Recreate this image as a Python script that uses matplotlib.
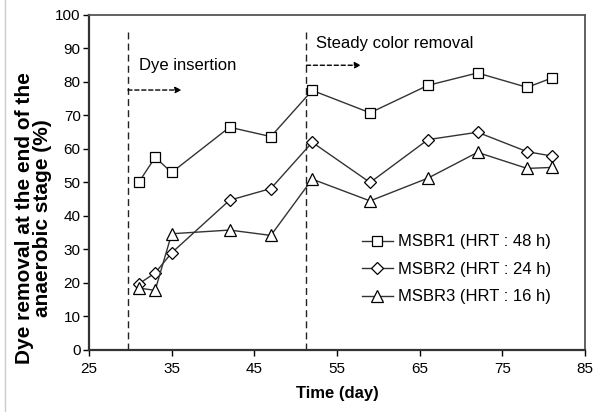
import matplotlib.pyplot as plt
from matplotlib.lines import Line2D

plt.rcParams['font.family'] = ['Liberation Sans', 'DejaVu Sans']

days = [31, 33, 35, 42, 47, 52, 59, 66, 72, 78, 81]
msbr1 = [50, 57.5, 53, 66.5, 63.7, 77.5, 70.8, 79, 82.7, 78.4, 81.2]
msbr2 = [19.7, 23, 29, 44.7, 48.2, 62, 50, 62.8, 65, 59.2, 57.9]
msbr3 = [18.5, 17.8, 34.7, 35.8, 34.2, 51, 44.5, 51.3, 59, 54.2, 54.5]

labels = ["MSBR1 (HRT : 48 h)", "MSBR2 (HRT : 24 h)", "MSBR3 (HRT : 16 h)"]
phase_days = [29.7, 51.3]

fig = plt.figure(figsize=(5.95, 4.12), dpi=100)
ax = fig.add_axes([0.1496, 0.1505, 0.8336, 0.8131])

line_kw = dict(color="#333333", linewidth=1.0, markerfacecolor="white",
               markeredgecolor="black", markeredgewidth=0.9)
ax.plot(days, msbr1, marker="s", markersize=6.5, label=labels[0], **line_kw)
ax.plot(days, msbr2, marker="D", markersize=6.0, label=labels[1], **line_kw)
ax.plot(days, msbr3, marker="^", markersize=8.5, label=labels[2], **line_kw)

# phase boundaries
for d in phase_days:
    ax.plot([d, d], [0, 95], color="#222222", linestyle=(0, (5, 3)), linewidth=1.0)

ax.text(31, 85, "Dye insertion", fontsize=12, va="center", ha="left")
ax.text(52.5, 91.6, "Steady color removal", fontsize=12, va="center", ha="left")
ax.annotate("", xy=(36.2, 77.6), xytext=(29.7, 77.6),
            arrowprops=dict(arrowstyle="-|>", linestyle=(0, (3, 2)), color="black",
                            lw=1.0, mutation_scale=9, shrinkA=0, shrinkB=0))
ax.annotate("", xy=(57.9, 85), xytext=(51.3, 85),
            arrowprops=dict(arrowstyle="-|>", linestyle=(0, (3, 2)), color="black",
                            lw=1.0, mutation_scale=9, shrinkA=0, shrinkB=0))

ax.set_xlim(25, 85)
ax.set_ylim(0, 100)
ax.set_xticks(range(25, 86, 10))
ax.set_yticks(range(0, 101, 10))
ax.tick_params(direction="out", length=4, width=1, labelsize=11)
ax.tick_params(axis="x", pad=5)
ax.tick_params(axis="y", pad=2)

for s in ["left", "bottom"]:
    ax.spines[s].set_linewidth(1.6)
    ax.spines[s].set_color("#333333")
for s in ["top", "right"]:
    ax.spines[s].set_linewidth(1.3)
    ax.spines[s].set_color("#555555")

ax.set_xlabel("Time (day)", fontsize=12, fontweight="bold", labelpad=7)
ax.set_ylabel("Dye removal at the end of the\nanaerobic stage (%)", fontsize=15,
              fontweight="bold", linespacing=0.92)
ax.yaxis.set_label_coords(-0.075, 0.395)

leg = ax.legend(loc="upper left", bbox_to_anchor=(0.55, 0.345), frameon=False,
                fontsize=12, handlelength=1.85, handletextpad=0.3,
                labelspacing=0.75, borderaxespad=0, borderpad=0)

fig.add_artist(Line2D([0.009, 0.009], [0, 1], color="#cccccc", linewidth=1.0))

fig.savefig("out.png", dpi=100)
